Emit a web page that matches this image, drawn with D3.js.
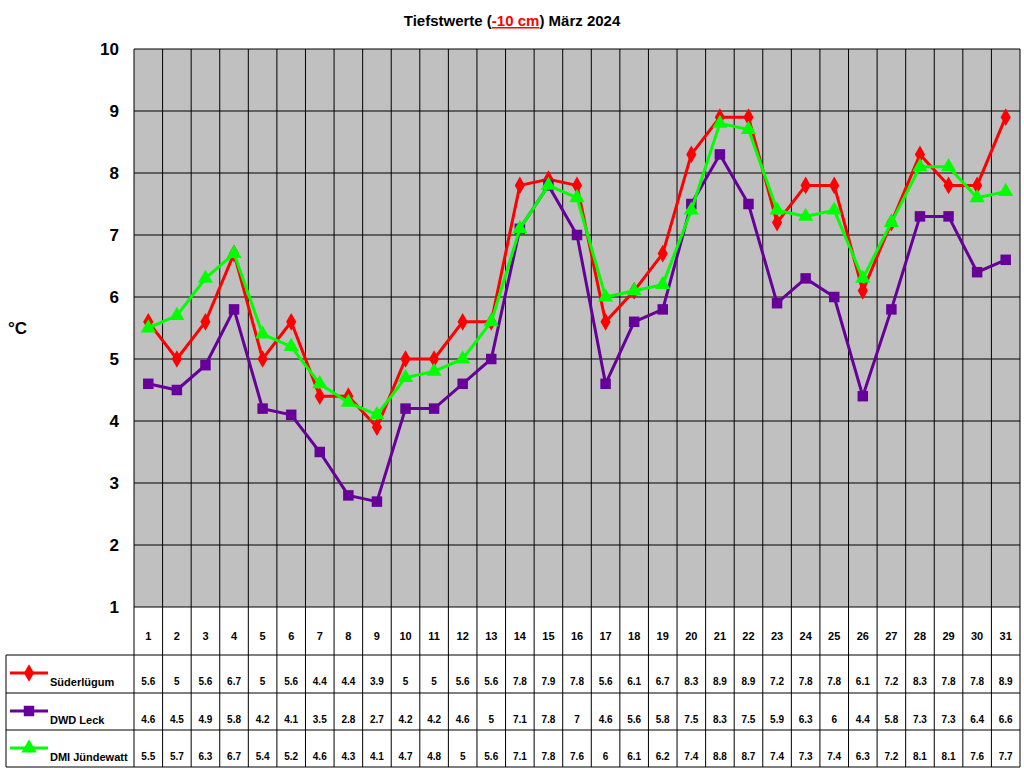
<!DOCTYPE html>
<html><head><meta charset="utf-8">
<script src="https://cdn.jsdelivr.net/npm/d3@7"></script>
<style>body{margin:0;background:#fff}text{font-family:Arial,"Liberation Sans",sans-serif}</style>
</head><body><div id="wrapper"></div>
<script>
const days = d3.range(1, 32)
const suederluegum = [5.6,5,5.6,6.7,5,5.6,4.4,4.4,3.9,5,5,5.6,5.6,7.8,7.9,7.8,5.6,6.1,6.7,8.3,8.9,8.9,7.2,7.8,7.8,6.1,7.2,8.3,7.8,7.8,8.9]
const dwdLeck = [4.6,4.5,4.9,5.8,4.2,4.1,3.5,2.8,2.7,4.2,4.2,4.6,5,7.1,7.8,7,4.6,5.6,5.8,7.5,8.3,7.5,5.9,6.3,6,4.4,5.8,7.3,7.3,6.4,6.6]
const dmi = [5.5,5.7,6.3,6.7,5.4,5.2,4.6,4.3,4.1,4.7,4.8,5,5.6,7.1,7.8,7.6,6,6.1,6.2,7.4,8.8,8.7,7.4,7.3,7.4,6.3,7.2,8.1,8.1,7.6,7.7]
const yTicks = d3.range(1, 11)
const series = [
  {name: "Süderlügum", values: suederluegum, color: "#ff0000", sym: d3.symbolDiamond, size: 90},
  {name: "DWD Leck", values: dwdLeck, color: "#660099", sym: d3.symbolSquare, size: 110},
  {name: "DMI Jündewatt", values: dmi, color: "#00ff00", sym: d3.symbolTriangle, size: 100}
]

const W = 1024, H = 768
const L = 134, R = 1020, T = 49, B = 607
const svg = d3.select("#wrapper").append("svg").attr("width", W).attr("height", H)

const x = d3.scaleBand().domain(days).range([L, R])
const y = d3.scaleLinear().domain([1, 10]).range([B, T])

svg.append("rect").attr("x", L).attr("y", T).attr("width", R - L).attr("height", B - T)
  .attr("fill", "#c0c0c0")

// horizontal grid
svg.selectAll(".hg").data(yTicks).join("line")
  .attr("x1", L).attr("x2", R).attr("y1", d => y(d)).attr("y2", d => y(d))
  .attr("stroke", "#000")

// vertical lines through plot + table
const rowY = [B, 655, 693, 730, 767]
svg.selectAll(".vg").data(days.concat([32])).join("line")
  .attr("x1", d => d === 32 ? R : x(d)).attr("x2", d => d === 32 ? R : x(d))
  .attr("y1", T).attr("y2", 767).attr("stroke", "#000")

svg.selectAll(".tr").data(rowY.slice(1)).join("line")
  .attr("x1", 6).attr("x2", R).attr("y1", d => d).attr("y2", d => d).attr("stroke", "#000")
svg.append("line").attr("x1", 6).attr("x2", 6).attr("y1", 655).attr("y2", 767).attr("stroke", "#000")

// y labels
svg.selectAll(".yl").data(yTicks).join("text")
  .attr("x", 119).attr("y", d => y(d) + 6).attr("text-anchor", "end")
  .attr("font-size", 17).attr("font-weight", "bold").text(d => d)

svg.append("text").attr("x", 8).attr("y", 334).attr("font-size", 17).attr("font-weight", "bold").text("°C")

// title
const title = svg.append("text").attr("x", 512).attr("y", 26).attr("text-anchor", "middle")
  .attr("font-size", 15).attr("font-weight", "bold")
title.append("tspan").text("Tiefstwerte (")
title.append("tspan").attr("fill", "#ff0000").attr("text-decoration", "underline").text("-10 cm")
title.append("tspan").text(") März 2024")

// day numbers
svg.selectAll(".dn").data(days).join("text")
  .attr("x", d => x(d) + x.bandwidth() / 2).attr("y", 640).attr("text-anchor", "middle")
  .attr("font-size", 11).attr("font-weight", "bold").text(d => d)

const line = d3.line().x((d, i) => x(days[i]) + x.bandwidth() / 2).y(d => y(d))

series.forEach((s, k) => {
  svg.append("path").datum(s.values).attr("d", line)
    .attr("fill", "none").attr("stroke", s.color).attr("stroke-width", 3)
  svg.selectAll(".m" + k).data(s.values).join("path")
    .attr("transform", (d, i) => `translate(${x(days[i]) + x.bandwidth() / 2},${y(d)})`)
    .attr("d", d3.symbol().type(s.sym).size(s.size)).attr("fill", s.color)

  const top = rowY[k + 1]
  // legend
  svg.append("line").attr("x1", 10).attr("x2", 48).attr("y1", top + 18).attr("y2", top + 18)
    .attr("stroke", s.color).attr("stroke-width", 3)
  svg.append("path").attr("transform", `translate(29,${top + 18})`)
    .attr("d", d3.symbol().type(s.sym).size(s.size)).attr("fill", s.color)
  svg.append("text").attr("x", 50).attr("y", top + 31).attr("font-size", 11)
    .attr("font-weight", "bold").text(s.name)
  svg.selectAll(".v" + k).data(s.values).join("text")
    .attr("x", (d, i) => x(days[i]) + x.bandwidth() / 2).attr("y", top + 30)
    .attr("text-anchor", "middle").attr("font-size", 10).attr("font-weight", "bold").text(d => d)
})
</script></body></html>
